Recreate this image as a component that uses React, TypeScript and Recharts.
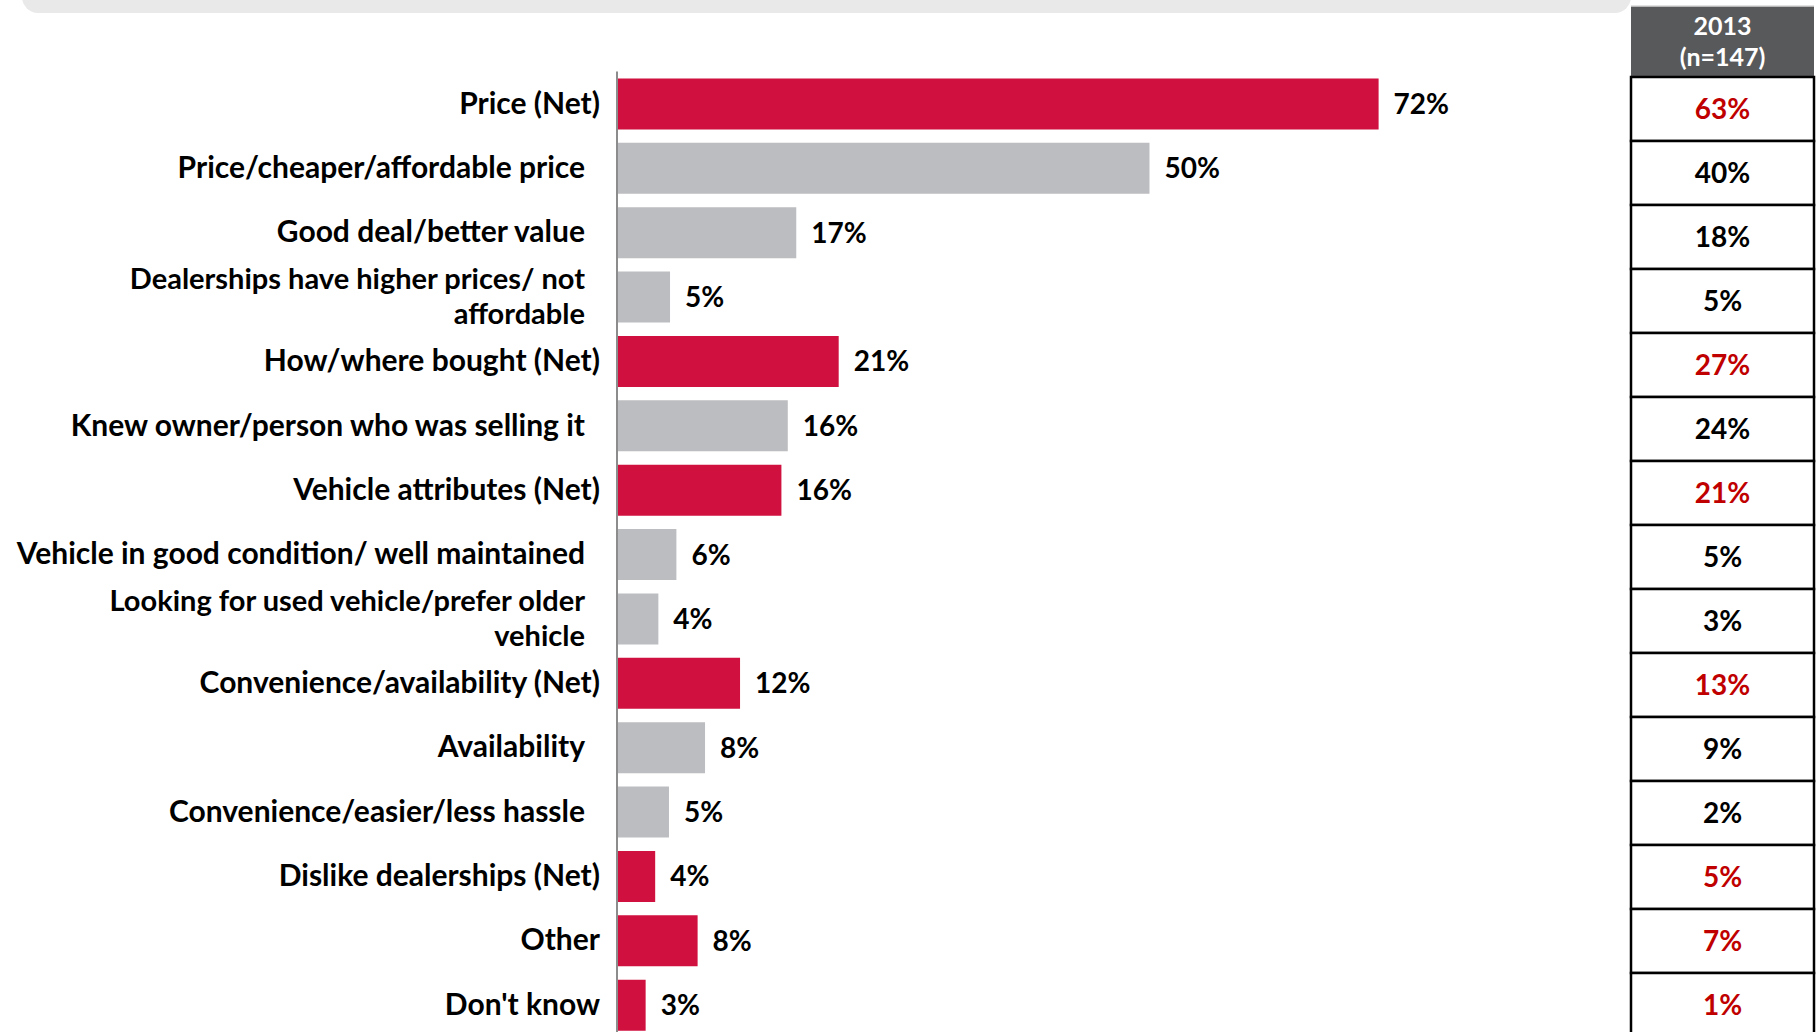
import React from "react";
import { BarChart, Bar, XAxis, YAxis, Cell, LabelList } from "recharts";

const categories = [
  "Price (Net)",
  "Price/cheaper/affordable price",
  "Good deal/better value",
  "Dealerships have higher prices/ not\naffordable",
  "How/where bought (Net)",
  "Knew owner/person who was selling it",
  "Vehicle attributes (Net)",
  "Vehicle in good condition/ well maintained",
  "Looking for used vehicle/prefer older\nvehicle",
  "Convenience/availability (Net)",
  "Availability",
  "Convenience/easier/less hassle",
  "Dislike dealerships (Net)",
  "Other",
  "Don't know",
];
const currentValues = [71.8, 50.2, 16.9, 5.0, 20.9, 16.1, 15.5, 5.6, 3.9, 11.6, 8.3, 4.9, 3.6, 7.6, 2.7];
const values2013 = [63, 40, 18, 5, 27, 24, 21, 5, 3, 13, 9, 2, 5, 7, 1];
const isNet = [true, false, false, false, true, false, true, false, false, true, false, false, true, true, true];
const tableHeader = ["2013", "(n=147)"];

const RED = "#D0103F";
const GREY = "#BCBDC0";
const TABLE_RED = "#C00000";
const FONT = "Lato, 'Open Sans', sans-serif";
const FS_LABEL = 30;
const FS = 28;

const data = categories.map((c, i) => ({ name: c, value: currentValues[i], net: isNet[i] }));

const LeftTick = (props: any) => {
  const { x, y, payload, index } = props;
  const i = payload && payload.index != null ? payload.index : index;
  const lines = String(payload.value).split("\n");
  const tx = x - (isNet[i] ? 17 : 32);
  const multi = lines.length > 1;
  const fs = multi ? 29 : FS_LABEL;
  const lh = 35;
  const start = y - ((lines.length - 1) * lh) / 2 + 10;
  return (
    <g>
      {lines.map((l, k) => (
        <text
          key={k}
          x={tx}
          y={start + k * lh}
          textAnchor="end"
          fontFamily={FONT}
          fontWeight={700}
          fontSize={fs}
          fill="#000"
        >
          {l}
        </text>
      ))}
    </g>
  );
};

const ValueLabel = (props: any) => {
  const { x, y, width, height, value } = props;
  return (
    <text x={x + width + 15} y={y + height / 2 + 10} fontFamily={FONT} fontWeight={700} fontSize={FS} fill="#000">
      {Math.round(value)}%
    </text>
  );
};

const TABLE_X = 1631;
const TABLE_W = 183;
const ROW_TOP = 77;
const ROW_H = 64;

const Table = () => (
  <svg width={1816} height={1032} style={{ position: "absolute", left: 0, top: 0, pointerEvents: "none" }}>
    <rect x={22} y={-30} width={TABLE_X - 22} height={43} rx={16} fill="#E9E9E9" />
    <rect x={TABLE_X} y={6} width={TABLE_W} height={ROW_TOP - 6} fill="#58595B" />
    <line x1={TABLE_X} x2={TABLE_X + TABLE_W} y1={6} y2={6} stroke="#D9D9D9" strokeWidth={1.5} />
    <text x={TABLE_X + TABLE_W / 2} y={35} textAnchor="middle" fontFamily={FONT} fontWeight={700} fontSize={25} fill="#fff">
      {tableHeader[0]}
    </text>
    <text x={TABLE_X + TABLE_W / 2} y={66} textAnchor="middle" fontFamily={FONT} fontWeight={700} fontSize={25} fill="#fff">
      {tableHeader[1]}
    </text>
    {values2013.map((v, i) => {
      const top = ROW_TOP + i * ROW_H;
      return (
        <g key={i}>
          <rect x={TABLE_X} y={top} width={TABLE_W} height={ROW_H} fill="#fff" stroke="#000" strokeWidth={2.5} />
          <text
            x={TABLE_X + TABLE_W / 2}
            y={top + ROW_H / 2 + 10}
            textAnchor="middle"
            fontFamily={FONT}
            fontWeight={700}
            fontSize={FS}
            fill={isNet[i] ? TABLE_RED : "#000"}
          >
            {v}%
          </text>
        </g>
      );
    })}
  </svg>
);

export default function App() {
  return (
    <div style={{ position: "absolute", left: 0, top: 0, width: 1816, height: 1032, overflow: "hidden", background: "#fff" }}>
      <Table />
      <BarChart
        width={1816}
        height={1037}
        data={data}
        layout="vertical"
        margin={{ top: 71.5, right: 186, bottom: 0, left: 0 }}
        barSize={51}
      >
        <XAxis type="number" domain={[0, 95.5]} hide />
        <YAxis
          type="category"
          dataKey="name"
          width={617}
          axisLine={{ stroke: "#8C8C8C", strokeWidth: 2 }}
          tickLine={false}
          tickSize={0}
          tickMargin={0}
          interval={0}
          tick={<LeftTick />}
        />
        <Bar dataKey="value" isAnimationActive={false}>
          {data.map((d, i) => (
            <Cell key={i} fill={d.net ? RED : GREY} />
          ))}
          <LabelList dataKey="value" content={<ValueLabel />} />
        </Bar>
      </BarChart>
    </div>
  );
}
